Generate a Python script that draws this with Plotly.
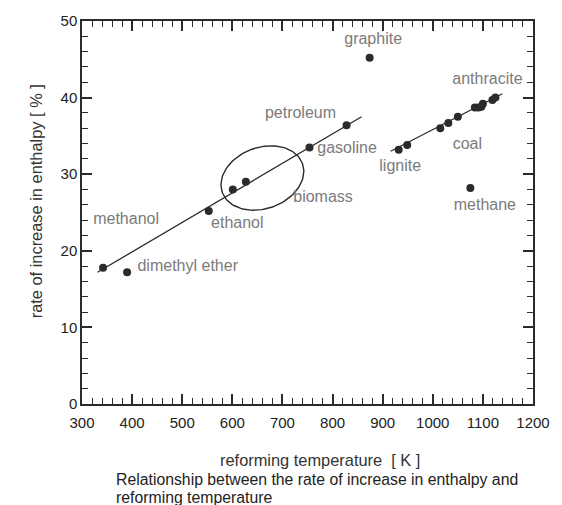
import numpy as np
import plotly.graph_objects as go

# Reforming temperature [K] and rate of increase in enthalpy [%] for each fuel
fuel_temp = [342, 390, 553, 601, 627, 754, 828, 874,
             932, 949, 1015, 1031, 1050, 1084, 1091, 1097, 1100, 1119, 1125,
             1075]
fuel_rate = [17.8, 17.2, 25.2, 28.0, 29.0, 33.5, 36.4, 45.2,
             33.2, 33.8, 36.0, 36.7, 37.5, 38.7, 38.7, 38.8, 39.2, 39.7, 40.0,
             28.2]

# Trend lines: liquid/biomass fuels and coals
trend1_x = [331, 858]
trend1_y = [17.2, 37.5]
trend2_x = [916, 1139]
trend2_y = [33.0, 40.5]

# Fuel labels and where they sit
label_text = ["methanol", "dimethyl ether", "ethanol", "biomass", "gasoline",
              "petroleum", "graphite", "anthracite", "coal", "lignite", "methane"]
label_x = [388, 511, 610, 781, 829, 736, 881, 1109, 1069, 935, 1104]
label_y = [24.0, 17.9, 23.5, 26.9, 33.3, 37.8, 47.5, 42.3, 33.8, 31.0, 25.9]

# Biomass region outline (centre in data units, semi-axes in px, tilt in deg)
biomass_centre = (660, 29.5)
biomass_axes_px = (43, 31)
biomass_tilt_deg = 20

W, H = 562, 505
M = dict(l=82, r=25, t=16, b=101)
X_RANGE = [300, 1200]
Y_RANGE = [0, 50]
px_x = (W - M["l"] - M["r"]) / (X_RANGE[1] - X_RANGE[0])
px_y = (H - M["t"] - M["b"]) / (Y_RANGE[1] - Y_RANGE[0])

t = np.linspace(0, 2 * np.pi, 120)
th = np.radians(biomass_tilt_deg)
a, b = biomass_axes_px
dx = a * np.cos(t) * np.cos(th) - b * np.sin(t) * np.sin(th)
dy = a * np.cos(t) * np.sin(th) + b * np.sin(t) * np.cos(th)
ell_x = biomass_centre[0] + dx / px_x
ell_y = biomass_centre[1] + dy / px_y

INK = "#2b2b2b"
FONT = "Liberation Sans, Arial, sans-serif"

fig = go.Figure()
fig.add_trace(go.Scatter(x=trend1_x, y=trend1_y, mode="lines",
                         line=dict(color=INK, width=1.3), hoverinfo="skip"))
fig.add_trace(go.Scatter(x=trend2_x, y=trend2_y, mode="lines",
                         line=dict(color=INK, width=1.3), hoverinfo="skip"))
fig.add_trace(go.Scatter(x=ell_x, y=ell_y, mode="lines",
                         line=dict(color=INK, width=1.4), hoverinfo="skip"))
fig.add_trace(go.Scatter(x=fuel_temp, y=fuel_rate, mode="markers",
                         marker=dict(color=INK, size=8)))
fig.add_trace(go.Scatter(x=label_x, y=label_y, mode="text", text=label_text,
                         textfont=dict(family=FONT, size=16, color="#7b7b7b"),
                         hoverinfo="skip"))
# invisible trace so the top/right tick axes are drawn
fig.add_trace(go.Scatter(x=[X_RANGE[0]], y=[Y_RANGE[0]], xaxis="x2", yaxis="y2",
                         mode="markers", marker=dict(opacity=0),
                         hoverinfo="skip"))

tick_style = dict(
    showgrid=False, zeroline=False,
    showline=True, linecolor=INK, linewidth=1.5,
    ticks="inside", ticklen=10, tickwidth=1.5, tickcolor=INK,
    tickfont=dict(family=FONT, size=15, color="#222"),
)
x_ticks = dict(range=X_RANGE, dtick=100, tick0=300,
               minor=dict(dtick=20, ticks="inside", ticklen=6,
                          tickwidth=1.3, tickcolor=INK))
y_ticks = dict(range=Y_RANGE, dtick=10, tick0=0,
               minor=dict(dtick=2, ticks="inside", ticklen=6,
                          tickwidth=1.3, tickcolor=INK))

fig.update_layout(
    xaxis=dict(**tick_style, **x_ticks, ticklabelstandoff=4),
    yaxis=dict(**tick_style, **y_ticks),
    xaxis2=dict(**tick_style, **x_ticks, overlaying="x", side="top",
                showticklabels=False),
    yaxis2=dict(**tick_style, **y_ticks, overlaying="y", side="right",
                showticklabels=False),
)

TITLE_FONT = dict(family=FONT, size=16.4, color="#333")
CAPTION_FONT = dict(family=FONT, size=15.8, color="#222")
fig.update_layout(
    width=W, height=H, margin=M, showlegend=False,
    paper_bgcolor="white", plot_bgcolor="white",
    font=dict(family=FONT, color="#222"),
    annotations=[
        dict(text="rate of increase in enthalpy [ % ]", textangle=-90,
             xref="paper", yref="paper", x=-0.103, y=0.528,
             xanchor="center", yanchor="middle", showarrow=False,
             font=TITLE_FONT),
        dict(text="reforming temperature  [ K ]",
             xref="paper", yref="paper", x=0.527, y=-0.146,
             xanchor="center", yanchor="middle", showarrow=False,
             font=TITLE_FONT),
        dict(text="Relationship between the rate of increase in enthalpy and",
             xref="paper", yref="paper", x=0.0703, y=-0.1959,
             xanchor="left", yanchor="middle", showarrow=False,
             font=CAPTION_FONT),
        dict(text="reforming temperature",
             xref="paper", yref="paper", x=0.0703, y=-0.2436,
             xanchor="left", yanchor="middle", showarrow=False,
             font=CAPTION_FONT),
    ],
)

fig.write_html("out.html")
